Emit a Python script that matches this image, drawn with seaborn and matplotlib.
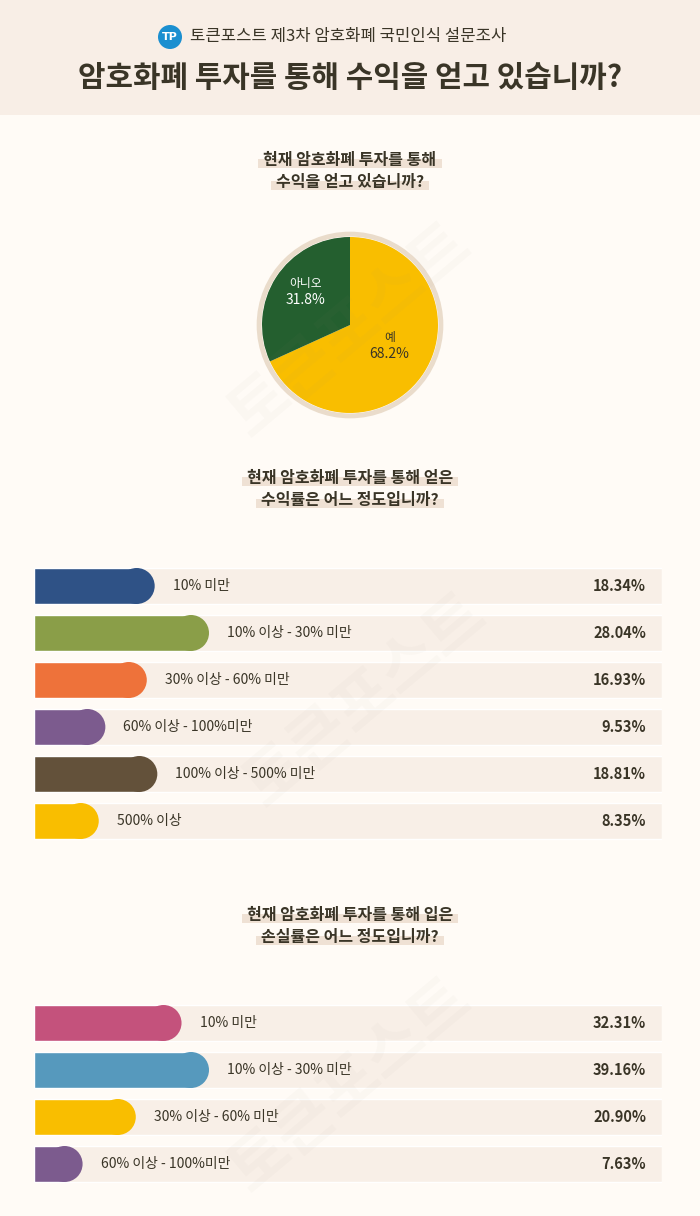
import matplotlib
matplotlib.use("Agg")
import matplotlib.pyplot as plt
from matplotlib.patches import Rectangle, Circle
import numpy as np
import pandas as pd
import seaborn as sns

# ---- data ----
survey_title = "토큰포스트 제3차 암호화폐 국민인식 설문조사"
main_title = "암호화폐 투자를 통해 수익을 얻고 있습니까?"

pie_title = ["현재 암호화폐 투자를 통해", "수익을 얻고 있습니까?"]
pie_labels = ["예", "아니오"]
pie_values = [68.2, 31.8]
pie_colors = ["#f9be00", "#245f2f"]
pie_text_colors = ["#3a3527", "#ffffff"]

profit_title = ["현재 암호화폐 투자를 통해 얻은", "수익률은 어느 정도입니까?"]
profit_cats = ["10% 미만", "10% 이상 - 30% 미만", "30% 이상 - 60% 미만",
               "60% 이상 - 100%미만", "100% 이상 - 500% 미만", "500% 이상"]
profit_values = [18.34, 28.04, 16.93, 9.53, 18.81, 8.35]
profit_colors = ["#2f5286", "#8a9e48", "#ee723a", "#7c5b8e", "#63513a", "#f9be00"]

loss_title = ["현재 암호화폐 투자를 통해 입은", "손실률은 어느 정도입니까?"]
loss_cats = ["10% 미만", "10% 이상 - 30% 미만", "30% 이상 - 60% 미만", "60% 이상 - 100%미만"]
loss_values = [32.31, 39.16, 20.90, 7.63]
loss_colors = ["#c4527c", "#5699bd", "#f9be00", "#7c5b8e"]

W, H = 700, 1216
DARK = "#3a3527"
TRACK = "#f8efe7"
BG = "#fffbf6"
HEAD = "#f8eee6"
HIGHLIGHT = "#efe1d4"

sns.set_theme(style="white")
plt.rcParams["font.family"] = ["Noto Sans CJK KR", "DejaVu Sans"]

fig = plt.figure(figsize=(W / 100, H / 100), dpi=100, facecolor=BG)
renderer = fig.canvas.get_renderer()

# background axes in pixel coordinates
bg = fig.add_axes([0, 0, 1, 1])
bg.set_xlim(0, W)
bg.set_ylim(H, 0)
bg.axis("off")
bg.add_patch(Rectangle((0, 0), W, 115, color=HEAD, lw=0))

bg.add_patch(Circle((170, 37), 12, color="#1b8fd0", lw=0))
bg.text(170, 37, "TP", color="white", fontsize=8, fontweight="bold",
        ha="center", va="center", family="DejaVu Sans")
bg.text(190, 37, survey_title, color=DARK, fontsize=12, ha="left", va="center")
bg.text(350, 78, main_title, color=DARK, fontsize=21.5, fontweight="bold",
        ha="center", va="center")


def section_title(lines, y0):
    for i, line in enumerate(lines):
        y = y0 + i * 22
        t = bg.text(350, y, line, color=DARK, fontsize=11.5, fontweight="bold",
                    ha="center", va="center", zorder=3)
        ext = t.get_window_extent(renderer)
        w = ext.width + 10
        bg.add_patch(Rectangle((350 - w / 2, y - 1), w, 9, color=HIGHLIGHT,
                               lw=0, zorder=2))


section_title(pie_title, 160)
section_title(profit_title, 478)
section_title(loss_title, 915)

# ---- pie ----
ax_pie = fig.add_axes([250 / W, 1 - 425 / H, 200 / W, 200 / H])
wedges, _ = ax_pie.pie(pie_values, colors=pie_colors, startangle=90,
                       counterclock=False, radius=0.968,
                       wedgeprops={"linewidth": 0})
ax_pie.add_patch(Circle((0, 0), 1.0, fill=False, lw=3.5, ec="#eadccb"))
for wdg, lab, val, tc in zip(wedges, pie_labels, pie_values, pie_text_colors):
    ang = np.deg2rad((wdg.theta1 + wdg.theta2) / 2)
    x, y = 0.55 * np.cos(ang), 0.55 * np.sin(ang)
    ax_pie.text(x - 0.03, y + 0.16, lab, color=tc, fontsize=8.5, ha="center", va="center")
    ax_pie.text(x - 0.03, y - 0.02, f"{val}%", color=tc, fontsize=10,
                fontweight="medium", ha="center", va="center")
ax_pie.set_xlim(-1.1, 1.1)
ax_pie.set_ylim(-1.1, 1.1)
ax_pie.set_aspect("equal")
ax_pie.axis("off")


# ---- bars ----
def bar_block(top, cats, values, colors):
    n = len(cats)
    pitch, bar_h = 47, 36
    left, right = 34, 662
    span = right - left
    ax = fig.add_axes([left / W, 1 - (top + n * pitch) / H, span / W, n * pitch / H])
    ax.patch.set_alpha(0)
    px = max(values) / 157          # data units per pixel
    xmax = span * px
    r = bar_h / 2 * px
    df = pd.DataFrame({"cat": cats, "val": values, "track": [xmax] * n})
    sns.barplot(data=df, x="track", y="cat", color=TRACK, saturation=1,
                width=bar_h / pitch, ax=ax)
    sns.barplot(data=df, x="val", y="cat", hue="cat", palette=colors,
                saturation=1, width=bar_h / pitch, legend=False, ax=ax)
    ax.scatter(df["val"], range(n), s=(bar_h * 0.72) ** 2, c=colors,
               marker="o", linewidths=0, zorder=3)
    for i, (c, v) in enumerate(zip(cats, values)):
        ax.text(v + r + 18 * px, i, c, color=DARK, fontsize=10, ha="left",
                va="center", zorder=4)
        ax.text(xmax - 16 * px, i, f"{v:.2f}%", color=DARK, fontsize=10.5,
                fontweight="bold", ha="right", va="center", zorder=4)
    ax.set_xlim(0, xmax)
    ax.set_ylim(n - 0.5, -0.5)
    ax.axis("off")


bar_block(562.5, profit_cats, profit_values, profit_colors)
bar_block(999.5, loss_cats, loss_values, loss_colors)

# faint watermarks
for wx, wy in [(350, 330), (365, 700), (350, 1085)]:
    fig.text(wx / W, 1 - wy / H, "토큰포스트", fontsize=46, fontweight="bold",
             color="#9a8f80", alpha=0.04, rotation=40, ha="center", va="center")

fig.savefig("out.png", dpi=100, facecolor=BG)
